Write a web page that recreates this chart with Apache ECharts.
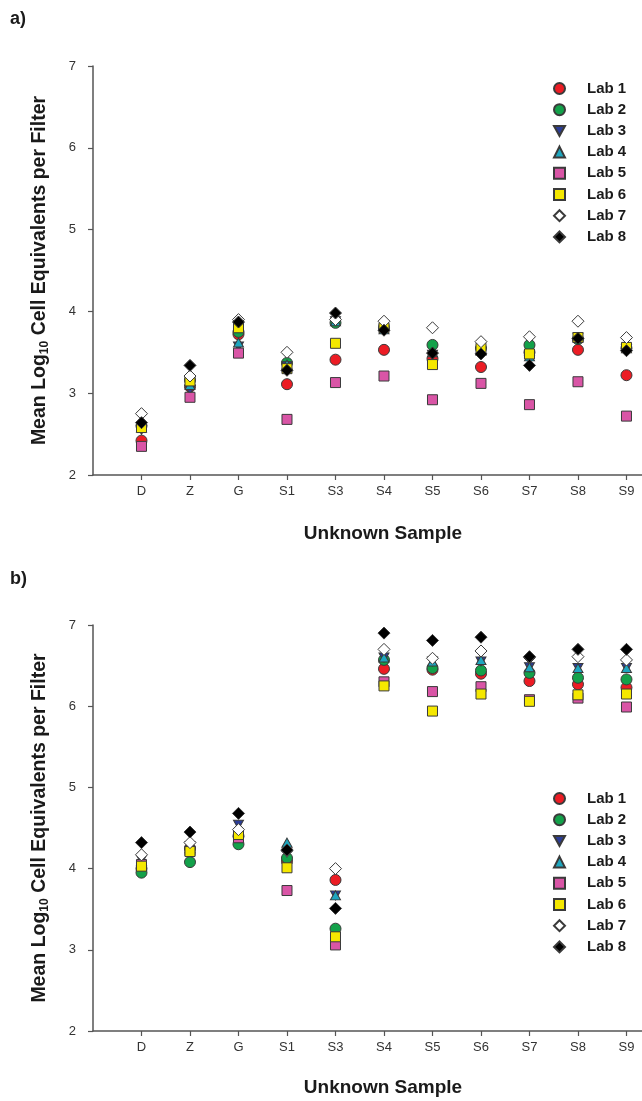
<!DOCTYPE html>
<html>
<head>
<meta charset="utf-8">
<script src="https://cdn.jsdelivr.net/npm/echarts@6/dist/echarts.min.js"></script>
<style>
  html, body { margin: 0; padding: 0; background: #fff; }
  #chart { width: 642px; height: 1101px; }
</style>
</head>
<body>
<div id="chart"></div>
<script>
// samples on the x axis
const categories = ["D", "Z", "G", "S1", "S3", "S4", "S5", "S6", "S7", "S8", "S9"];
const yTicks = [2, 3, 4, 5, 6, 7];

// panel a) mean log10 cell equivalents, one array per lab
const labA1 = [2.42, 3.08, 3.72, 3.11, 3.41, 3.53, 3.42, 3.32, 3.50, 3.53, 3.22];
const labA2 = [2.60, 3.16, 3.75, 3.37, 3.86, 3.80, 3.59, 3.55, 3.59, 3.66, 3.55];
const labA3 = [2.55, 3.04, 3.57, 3.33, 3.88, 3.78, 3.47, 3.50, 3.40, 3.68, 3.54];
const labA4 = [2.58, 3.10, 3.62, 3.35, 3.88, 3.78, 3.50, 3.52, 3.45, 3.68, 3.55];
const labA5 = [2.35, 2.95, 3.49, 2.68, 3.13, 3.21, 2.92, 3.12, 2.86, 3.14, 2.72];
const labA6 = [2.58, 3.15, 3.80, 3.30, 3.61, 3.80, 3.35, 3.55, 3.48, 3.68, 3.56];
const labA7 = [2.75, 3.21, 3.90, 3.50, 3.90, 3.88, 3.80, 3.63, 3.69, 3.88, 3.68];
const labA8 = [2.64, 3.34, 3.87, 3.28, 3.98, 3.77, 3.49, 3.48, 3.34, 3.67, 3.52];

// panel b)
const labB1 = [4.00, 4.25, 4.40, 4.09, 3.86, 6.46, 6.45, 6.40, 6.31, 6.27, 6.23];
const labB2 = [3.95, 4.08, 4.30, 4.13, 3.26, 6.57, 6.47, 6.44, 6.41, 6.35, 6.33];
const labB3 = [4.11, 4.28, 4.54, 4.20, 3.67, 6.60, 6.55, 6.55, 6.48, 6.47, 6.47];
const labB4 = [4.10, 4.25, 4.45, 4.32, 3.67, 6.60, 6.55, 6.57, 6.48, 6.47, 6.47];
const labB5 = [4.05, 4.22, 4.38, 3.73, 3.06, 6.30, 6.18, 6.24, 6.08, 6.10, 5.99];
const labB6 = [4.03, 4.21, 4.42, 4.01, 3.16, 6.25, 5.94, 6.15, 6.06, 6.14, 6.15];
const labB7 = [4.17, 4.32, 4.48, 4.22, 4.00, 6.70, 6.59, 6.68, 6.60, 6.61, 6.57];
const labB8 = [4.32, 4.45, 4.68, 4.23, 3.51, 6.90, 6.81, 6.85, 6.61, 6.70, 6.70];

const labNames = ["Lab 1", "Lab 2", "Lab 3", "Lab 4", "Lab 5", "Lab 6", "Lab 7", "Lab 8"];

const FONT = "Liberation Sans, Arial, sans-serif";
const triDown = "path://M0,0 L10,0 L5,9 Z";
const styles = [
  { symbol: "circle", size: 11, color: "#ec1c24" },
  { symbol: "circle", size: 11, color: "#13a14a" },
  { symbol: triDown, size: [10, 9], color: "#2b3d97" },
  { symbol: "triangle", size: [10, 9], color: "#1ea6bf" },
  { symbol: "rect", size: 10, color: "#d955a6" },
  { symbol: "rect", size: 10, color: "#f5e800" },
  { symbol: "diamond", size: 12, color: "#ffffff" },
  { symbol: "diamond", size: 12, color: "#000000" },
];

const chart = echarts.init(document.getElementById("chart"));

function toPoints(arr) {
  return arr.map((v, i) => [i + 1, v]);
}

function makeSeries(labs, gridIdx) {
  return labs.map((arr, k) => ({
    name: labNames[k],
    type: "scatter",
    xAxisIndex: gridIdx,
    yAxisIndex: gridIdx,
    symbol: styles[k].symbol,
    symbolSize: styles[k].size,
    itemStyle: { color: styles[k].color, borderColor: "#3a3a3a", borderWidth: 1, opacity: 1 },
    emphasis: { disabled: true },
    data: toPoints(arr),
  }));
}

function xAxisFor(gridIdx, gap) {
  return {
    type: "value",
    gridIndex: gridIdx,
    min: 0,
    max: 11.32,
    name: "Unknown Sample",
    nameLocation: "middle",
    nameGap: gap,
    nameTextStyle: { fontFamily: FONT, fontSize: 19, fontWeight: "bold", color: "#1a1a1a", padding: [0, 0, 0, 31] },
    axisLine: { onZero: false, lineStyle: { color: "#555", width: 1.5 } },
    axisTick: { show: true, inside: false, length: 5, lineStyle: { color: "#555", width: 1.2 },
      customValues: categories.map((c, i) => i + 1) },
    axisLabel: { fontFamily: FONT, fontSize: 13, color: "#333", margin: 10,
      customValues: categories.map((c, i) => i + 1),
      formatter: (v) => categories[Math.round(v) - 1] || "" },
    splitLine: { show: false },
  };
}

function yAxisFor(gridIdx) {
  return {
    type: "value",
    gridIndex: gridIdx,
    min: yTicks[0],
    max: yTicks[yTicks.length - 1],
    interval: 1,
    name: "{a|Mean Log}{s|10}{a| Cell Equivalents per Filter}",
    nameLocation: "middle",
    nameRotate: 90,
    nameGap: 42,
    nameTextStyle: {
      rich: {
        a: { fontFamily: FONT, fontSize: 19.5, fontWeight: "bold", color: "#1a1a1a", lineHeight: 22 },
        s: { fontFamily: FONT, fontSize: 12, fontWeight: "bold", color: "#1a1a1a", lineHeight: 22,
          verticalAlign: "bottom", padding: [9, 0, 0, 0] },
      },
    },
    axisLine: { show: true, lineStyle: { color: "#555", width: 1.5 } },
    axisTick: { show: true, inside: false, length: 5, lineStyle: { color: "#555", width: 1.2 } },
    axisLabel: { fontFamily: FONT, fontSize: 13, color: "#333", margin: 17 },
    splitLine: { show: false },
  };
}

function legendFor(top) {
  return {
    orient: "vertical",
    left: 548,
    top: top,
    data: labNames,
    itemWidth: 11,
    itemHeight: 11,
    itemGap: 6.2,
    selectedMode: false,
    textStyle: { fontFamily: FONT, fontSize: 15, fontWeight: "bold", color: "#1a1a1a", lineHeight: 15,
      padding: [0, 0, 0, 17] },
  };
}

const option = {
  backgroundColor: "#fff",
  animation: false,
  graphic: [
    { type: "text", left: 10, top: 10, style: { text: "a)", font: "bold 18px " + FONT, fill: "#1a1a1a" } },
    { type: "text", left: 10, top: 570, style: { text: "b)", font: "bold 18px " + FONT, fill: "#1a1a1a" } },
  ],
  legend: [legendFor(76), legendFor(786)],
  grid: [
    { left: 93, top: 66, width: 549, height: 409, containLabel: false },
    { left: 93, top: 625, width: 549, height: 406, containLabel: false },
  ],
  xAxis: [xAxisFor(0, 49), xAxisFor(1, 47)],
  yAxis: [yAxisFor(0), yAxisFor(1)],
  series: [
    ...makeSeries([labA1, labA2, labA3, labA4, labA5, labA6, labA7, labA8], 0),
    ...makeSeries([labB1, labB2, labB3, labB4, labB5, labB6, labB7, labB8], 1),
  ],
};

chart.setOption(option);
</script>
</body>
</html>
